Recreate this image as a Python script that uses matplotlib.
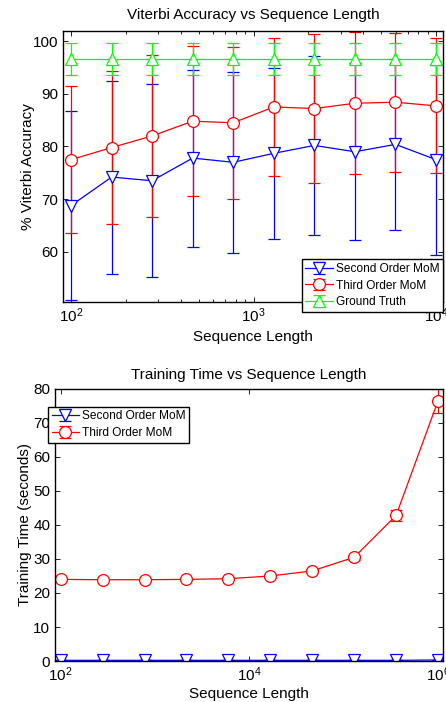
import numpy as np
import matplotlib
matplotlib.use("Agg")
import matplotlib.pyplot as plt
from matplotlib.ticker import FixedLocator, NullLocator, LogLocator

plt.rcParams["font.family"] = ["Liberation Sans", "DejaVu Sans"]
plt.rcParams["mathtext.fontset"] = "custom"
plt.rcParams["mathtext.rm"] = "Liberation Sans"
plt.rcParams["mathtext.it"] = "Liberation Sans:italic"

# ---- data: Viterbi accuracy ----
seq_len_acc = [100, 167, 278, 464, 774, 1292, 2154, 3594, 5995, 10000]
acc_second = [68.8, 74.2, 73.5, 77.8, 77.0, 78.7, 80.2, 79.0, 80.4, 77.5]
acc_second_err = [18.0, 18.3, 18.3, 16.8, 17.2, 16.2, 16.9, 16.8, 16.2, 18.0]
acc_third = [77.5, 79.8, 82.0, 84.8, 84.5, 87.5, 87.2, 88.2, 88.4, 87.7]
acc_third_err = [14.0, 14.5, 15.3, 14.2, 14.4, 13.1, 14.2, 13.5, 13.2, 12.8]
acc_truth = [96.6, 96.6, 96.6, 96.6, 96.6, 96.6, 96.6, 96.6, 96.6, 96.6]
acc_truth_err = [3.0, 3.0, 3.0, 3.0, 3.0, 3.0, 3.0, 3.0, 3.0, 3.0]

# ---- data: training time ----
seq_len_time = [100, 278, 774, 2154, 5995, 16681, 46416, 129155, 359381, 1000000]
time_second = [0.2, 0.2, 0.2, 0.2, 0.2, 0.2, 0.2, 0.2, 0.2, 0.3]
time_second_err = [0.05, 0.05, 0.05, 0.05, 0.05, 0.05, 0.05, 0.05, 0.05, 0.05]
time_third = [24.0, 23.9, 23.9, 24.0, 24.2, 25.0, 26.5, 30.5, 42.8, 76.5]
time_third_err = [0.3, 0.3, 0.3, 0.3, 0.4, 0.5, 0.6, 0.8, 1.5, 3.5]

BLUE = "#0000ff"
RED = "#ff0000"
GREEN = "#00ff00"

fig = plt.figure(figsize=(4.46, 7.02), dpi=100)


def style_axes(ax):
    ax.tick_params(which="both", direction="in", top=True, right=True,
                   labelsize=11, width=0.6, colors="black")
    ax.tick_params(which="major", length=3.5)
    ax.tick_params(which="minor", length=2)
    for s in ax.spines.values():
        s.set_linewidth(1.0)


def eb(ax, x, y, e, color, marker, label):
    ax.errorbar(x, y, yerr=e, color=color, marker=marker, markersize=8.5,
                markerfacecolor="white", markeredgecolor=color,
                markeredgewidth=0.9, linewidth=0.9, elinewidth=0.9,
                capsize=4.3, capthick=0.9, label=label)


def make_legend(ax, loc, anchor):
    leg = ax.legend(loc=loc, bbox_to_anchor=anchor, fontsize=8.6,
                    frameon=True, fancybox=False, edgecolor="black",
                    framealpha=1, borderpad=0.3, labelspacing=0.4,
                    handlelength=2.3, handletextpad=0.25, borderaxespad=0)
    leg.get_frame().set_linewidth(1.0)
    return leg


# ---- top: accuracy ----
ax1 = fig.add_axes([0.1413, 0.5698, 0.852, 0.386])
eb(ax1, seq_len_acc, acc_second, acc_second_err, BLUE, "v", "Second Order MoM")
eb(ax1, seq_len_acc, acc_third, acc_third_err, RED, "o", "Third Order MoM")
eb(ax1, seq_len_acc, acc_truth, acc_truth_err, GREEN, "^", "Ground Truth")
ax1.set_xscale("log")
ax1.set_xlim(90.4, 10920)
ax1.set_ylim(50.5, 101.9)
ax1.set_yticks([60, 70, 80, 90, 100])
ax1.xaxis.set_major_locator(FixedLocator([1e2, 1e3, 1e4]))
ax1.xaxis.set_minor_locator(LogLocator(base=10, subs=np.arange(2, 10)))
style_axes(ax1)
ax1.set_title("Viterbi Accuracy vs Sequence Length", fontsize=11, pad=9)
ax1.set_xlabel("Sequence Length", fontsize=11, labelpad=3)
ax1.set_ylabel("% Viterbi Accuracy", fontsize=11, labelpad=-2)
make_legend(ax1, "lower right", (1.0, -0.037))

# ---- bottom: training time ----
ax2 = fig.add_axes([0.1233, 0.0584, 0.87, 0.3875])
eb(ax2, seq_len_time, time_second, time_second_err, BLUE, "v", "Second Order MoM")
eb(ax2, seq_len_time, time_third, time_third_err, RED, "o", "Third Order MoM")
ax2.set_xscale("log")
ax2.set_xlim(87, 1.13e6)
ax2.set_ylim(0, 80)
ax2.set_yticks(np.arange(0, 81, 10))
ax2.xaxis.set_major_locator(FixedLocator([1e2, 1e4, 1e6]))
ax2.xaxis.set_minor_locator(NullLocator())
style_axes(ax2)
ax2.set_title("Training Time vs Sequence Length", fontsize=11, pad=7)
ax2.set_xlabel("Sequence Length", fontsize=11, labelpad=2)
ax2.set_ylabel("Training Time (seconds)", fontsize=11, labelpad=1)
make_legend(ax2, "upper left", (-0.018, 0.935))

fig.savefig("out.png", dpi=100)
